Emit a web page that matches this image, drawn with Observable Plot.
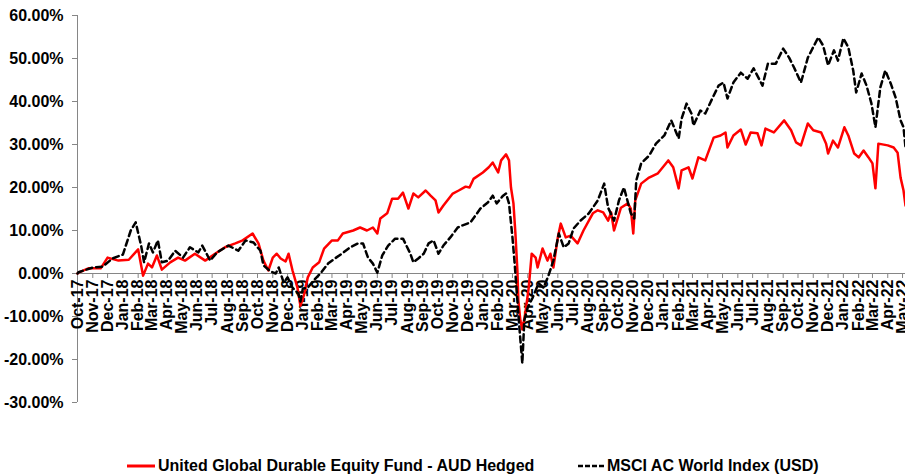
<!DOCTYPE html>
<html><head><meta charset="utf-8">
<script src="https://cdn.jsdelivr.net/npm/d3@7"></script>
<script src="https://cdn.jsdelivr.net/npm/@observablehq/plot@0.6"></script>
<style>
body{margin:0;background:#fff;font-family:"Liberation Sans",Arial,sans-serif;}
#legend{position:relative;width:905px;height:26px;font-size:16px;font-weight:bold;color:#000;}
.item{position:absolute;top:3px;display:flex;align-items:center;height:26px;white-space:nowrap;}
.item svg{margin-right:3px;}
</style></head><body>
<div id="chart"></div>
<div id="legend">
  <div class="item" style="left:127px"><svg width="28" height="6"><line x1="0" y1="3" x2="28" y2="3" stroke="#ff0000" stroke-width="3"/></svg><span id="lab0"></span></div>
  <div class="item" style="left:578px"><svg width="26" height="6"><line x1="0" y1="3" x2="26" y2="3" stroke="#000" stroke-width="2.5" stroke-dasharray="5 2"/></svg><span id="lab1"></span></div>
</div>
<script>
const seriesNames = ["United Global Durable Equity Fund - AUD Hedged", "MSCI AC World Index (USD)"];
const axisStart = "2017-10-01";
const axisEnd = "2022-05-07";

const fundDates = ["2017-10-01","2017-10-03","2017-10-23","2017-11-17","2017-12-01","2017-12-23","2018-01-13","2018-02-01","2018-02-11","2018-02-21","2018-03-01","2018-03-11","2018-03-21","2018-04-07","2018-04-23","2018-05-07","2018-05-27","2018-06-17","2018-07-07","2018-07-27","2018-08-17","2018-09-01","2018-09-21","2018-10-03","2018-10-13","2018-10-23","2018-11-01","2018-11-09","2018-11-17","2018-11-27","2018-12-03","2018-12-11","2018-12-21","2018-12-27","2019-01-03","2019-01-11","2019-01-21","2019-02-03","2019-02-13","2019-03-01","2019-03-13","2019-03-23","2019-04-13","2019-04-27","2019-05-11","2019-05-23","2019-06-01","2019-06-07","2019-06-21","2019-07-01","2019-07-13","2019-07-23","2019-08-03","2019-08-13","2019-08-23","2019-09-07","2019-09-17","2019-09-27","2019-10-03","2019-10-13","2019-11-01","2019-11-13","2019-11-27","2019-12-05","2019-12-13","2020-01-01","2020-01-13","2020-01-21","2020-02-01","2020-02-07","2020-02-17","2020-02-23","2020-02-27","2020-03-03","2020-03-07","2020-03-11","2020-03-13","2020-03-17","2020-03-21","2020-03-27","2020-04-03","2020-04-09","2020-04-17","2020-04-21","2020-05-01","2020-05-11","2020-05-17","2020-05-23","2020-06-01","2020-06-07","2020-06-17","2020-06-27","2020-07-11","2020-07-23","2020-08-11","2020-08-21","2020-09-01","2020-09-11","2020-09-17","2020-09-23","2020-10-07","2020-10-21","2020-10-27","2020-11-01","2020-11-05","2020-11-17","2020-12-03","2020-12-21","2021-01-11","2021-01-21","2021-02-01","2021-02-07","2021-02-21","2021-03-01","2021-03-13","2021-03-27","2021-04-13","2021-04-27","2021-05-07","2021-05-11","2021-05-23","2021-06-07","2021-06-17","2021-06-27","2021-07-11","2021-07-19","2021-07-27","2021-08-13","2021-09-03","2021-09-17","2021-09-27","2021-10-07","2021-10-21","2021-11-01","2021-11-17","2021-11-27","2021-12-01","2021-12-11","2021-12-21","2022-01-03","2022-01-11","2022-01-23","2022-02-01","2022-02-11","2022-02-21","2022-03-01","2022-03-07","2022-03-13","2022-04-01","2022-04-13","2022-04-21","2022-04-27","2022-05-03","2022-05-07"];
const fundValues = [0,0.2,1.2,1.2,3.7,3.0,3.2,5.6,-0.5,2.3,1.4,4.2,0.9,2.6,3.7,3.0,4.6,3.0,4.6,6.1,7.0,7.7,9.3,7.0,3.0,0.7,3.7,4.6,3.5,2.8,4.6,0.7,-3.3,-7.5,-5.1,-0.9,1.4,2.6,5.8,7.7,7.7,9.3,10,10.7,10,10.7,9.3,12.8,14,17.4,17.4,18.8,15.1,18.6,17.7,19.3,18.1,17,14.2,15.8,18.6,19.3,20.2,20.0,22,23.5,24.7,25.8,23.5,26.3,27.7,26.3,20,16.3,9.3,0.7,-6.3,-10.9,-13,-9.3,-3.3,4.6,3.7,1.4,5.8,3.0,4.6,1.4,8.4,11.6,8.4,8.8,7.0,10,14,14.7,14.2,12.3,14.2,10,15.3,16.3,15.1,9.3,17,20.9,22.3,23.3,26.3,24.7,19.8,24,24.7,22.1,27,26.3,31.6,32.1,32.8,29.3,32.1,33.5,30.0,32.8,32.6,29.8,33.7,32.8,35.6,33.3,30.5,29.8,34.9,33.3,32.8,30.2,27.9,30.9,29.3,34,32.1,27.9,27,28.6,27,25.6,19.8,30.2,29.8,29.3,28.1,22.3,19.3,15.8];

const msciDates = ["2017-10-01","2017-10-03","2017-11-01","2017-11-21","2017-12-11","2018-01-01","2018-01-17","2018-01-27","2018-02-07","2018-02-13","2018-02-23","2018-03-03","2018-03-13","2018-03-21","2018-04-03","2018-04-17","2018-05-03","2018-05-17","2018-06-03","2018-06-11","2018-06-27","2018-07-11","2018-08-03","2018-08-23","2018-09-07","2018-09-23","2018-10-07","2018-10-13","2018-10-27","2018-11-07","2018-11-13","2018-11-23","2018-12-01","2018-12-11","2018-12-23","2018-12-27","2019-01-01","2019-01-11","2019-01-23","2019-02-07","2019-02-21","2019-03-07","2019-03-21","2019-04-07","2019-04-23","2019-05-03","2019-05-13","2019-05-23","2019-06-01","2019-06-11","2019-06-23","2019-07-07","2019-07-23","2019-08-07","2019-08-13","2019-08-23","2019-09-03","2019-09-13","2019-09-23","2019-10-03","2019-10-13","2019-10-27","2019-11-11","2019-11-21","2019-12-07","2019-12-27","2020-01-11","2020-01-21","2020-01-29","2020-02-11","2020-02-17","2020-02-23","2020-03-01","2020-03-05","2020-03-11","2020-03-15","2020-03-21","2020-03-25","2020-04-01","2020-04-11","2020-04-23","2020-05-03","2020-05-13","2020-05-23","2020-06-03","2020-06-13","2020-06-23","2020-07-03","2020-07-17","2020-08-03","2020-08-21","2020-09-03","2020-09-11","2020-09-23","2020-10-03","2020-10-13","2020-10-27","2020-11-03","2020-11-07","2020-11-17","2020-12-03","2020-12-17","2021-01-03","2021-01-17","2021-02-01","2021-02-07","2021-02-17","2021-02-27","2021-03-03","2021-03-17","2021-03-27","2021-04-11","2021-04-23","2021-05-03","2021-05-11","2021-05-23","2021-06-07","2021-06-21","2021-07-03","2021-07-21","2021-08-01","2021-08-17","2021-09-01","2021-09-13","2021-09-23","2021-10-07","2021-10-21","2021-11-11","2021-11-21","2021-12-01","2021-12-13","2021-12-21","2022-01-01","2022-01-11","2022-01-21","2022-01-27","2022-02-07","2022-02-17","2022-02-27","2022-03-07","2022-03-17","2022-03-27","2022-04-07","2022-04-17","2022-04-27","2022-05-03","2022-05-07"];
const msciValues = [0,0.3,1.4,1.6,3.5,4.4,10,11.9,6.5,2.6,7.0,4.9,7.7,2.6,3.0,5.3,3.7,6.1,4.9,6.5,3.0,4.9,6.5,5.3,7.7,7.2,5.3,1.9,0.5,0,1.4,-2.1,-0.9,-3.3,-4.7,-6.5,-3.5,-3.3,-1.6,0.2,2.3,3.5,4.6,6.1,7.0,7.0,3.7,2.3,0.2,4.2,6.5,8.1,8.1,4.6,2.6,3.5,4.6,7.0,7.7,4.6,6.5,8.4,10.7,11.2,11.9,15.1,16.5,18.1,16.3,18.1,18.6,16.3,8.4,3.0,-6.3,-12.5,-20.9,-10.9,-7.9,-5.6,-2.3,-3.3,-0.5,3.0,9.3,6.1,7.0,10.5,12.3,14,17,20.9,15.3,12.3,17,20,14,12.8,21.6,25.6,27.4,30.2,32.1,35.6,31.4,36,39.5,37.2,34.4,37.9,37.2,40.9,43.7,44.4,40.7,44.4,46.7,45.3,47.7,43.7,48.8,48.8,52.3,50.2,47.9,44.4,50.2,54.9,53,48.4,51.9,49.5,54.7,52.6,47.2,42.1,46.5,43.7,39.5,34,43.3,47.2,44.2,40.9,35.6,34,29.3];

const yTickValues = [-30,-20,-10,0,10,20,30,40,50,60];

const parse = d3.utcParse("%Y-%m-%d");
const fund = fundDates.map((d, i) => ({date: parse(d), value: fundValues[i]}));
const msci = msciDates.map((d, i) => ({date: parse(d), value: msciValues[i]}));
const xStart = parse(axisStart), xEnd = parse(axisEnd);
const months = d3.utcMonth.range(xStart, d3.utcDay.offset(xEnd, 1));
const axisGray = "#868686";

const chart = Plot.plot({
  width: 905, height: 450,
  marginLeft: 77, marginRight: 0, marginTop: 15, marginBottom: 48,
  style: {fontFamily: "'Liberation Sans', Arial, sans-serif", fontSize: "16px", fontWeight: "bold", background: "white", color: "black", overflow: "visible"},
  x: {type: "utc", domain: [xStart, xEnd], axis: null},
  y: {domain: [-30, 60], ticks: 9, tickSize: 0, tickPadding: 14, tickFormat: d => d.toFixed(2) + "%", label: null},
  marks: [
    Plot.ruleX([xStart], {x: d => d, stroke: axisGray, strokeWidth: 1}),
    Plot.ruleY(yTickValues, {y: d => d, x1: () => xStart, x2: () => xStart, insetLeft: -5, stroke: axisGray}),
    Plot.ruleY([0], {stroke: axisGray}),
    Plot.ruleX(months, {x: d => d, y1: () => 0, y2: () => 0, insetBottom: -5, stroke: axisGray}),
    Plot.text(months, {x: d => d, y: () => 0, text: d3.utcFormat("%b-%y"), rotate: -90, textAnchor: "end", dy: 6, fontSize: 16, fontWeight: "bold", fill: "black"}),
    Plot.line(fund, {x: "date", y: "value", stroke: "#ff0000", strokeWidth: 2.5}),
    Plot.line(msci, {x: "date", y: "value", stroke: "#000000", strokeWidth: 2.5, strokeDasharray: "6 4"})
  ]
});
document.getElementById("chart").appendChild(chart);
document.getElementById("lab0").textContent = seriesNames[0];
document.getElementById("lab1").textContent = seriesNames[1];
</script>
</body></html>
